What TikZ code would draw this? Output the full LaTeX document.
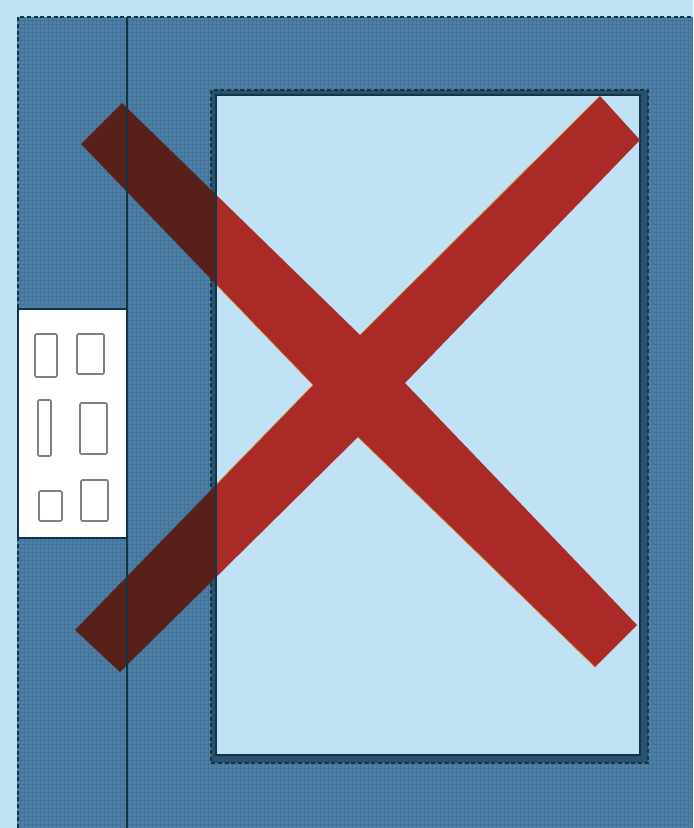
\documentclass[tikz,border=0pt]{standalone}
\usepackage{tikz}
\usetikzlibrary{arrows.meta,positioning,calc}
\definecolor{sky}{RGB}{193,225,245}
\definecolor{wall}{RGB}{78,128,167}
\definecolor{weave}{RGB}{58,105,142}
\definecolor{ink}{RGB}{18,52,72}
\definecolor{cross}{RGB}{170,42,40}
\definecolor{crossdark}{RGB}{88,32,26}
\definecolor{rim}{RGB}{205,130,50}
\tikzset{
  panel/.style={fill=wall, draw=none},
  seam/.style={draw=ink, line width=1.1pt, densely dashed},
  pane/.style={fill=sky, draw=ink, line width=1.3pt},
  card/.style={fill=white, draw=ink, line width=1.1pt},
  slot/.style={draw=black!50, rounded corners=1pt, line width=1.2pt, fill=white},
  rimline/.style={draw=rim, line width=0.5pt},
}
\begin{document}
\begin{tikzpicture}[x=0.75pt,y=-0.75pt]
        \useasboundingbox (0,0) rectangle (693,828);
        \fill[sky] (0,0) rectangle (693,828);
        % wall
        \fill[panel] (17,17) rectangle (693,828);
        \begin{scope}
          \clip (17,17) rectangle (693,828);
          \draw[weave, line width=0.35pt, opacity=0.55, step=3pt] (17,17) grid (693,828);
        \end{scope}
        \draw[seam] (18,828) -- (18,17) -- (693,17);
        % window
        \fill[ink!60!wall] (211,90) rectangle (648,763);
        \draw[seam] (211,90) rectangle (648,763);
        \draw[pane] (216,95) rectangle (640,755);
        % cross
        \coordinate (nw1) at (81,144);
        \coordinate (nw2) at (122,103);
        \coordinate (se1) at (637,625);
        \coordinate (se2) at (595,667);
        \coordinate (sw1) at (75,630);
        \coordinate (sw2) at (120,672);
        \coordinate (ne1) at (640,140);
        \coordinate (ne2) at (600,96);
        \coordinate (top) at (360,335);
        \coordinate (rgt) at (405,383);
        \coordinate (bot) at (358,437);
        \coordinate (lft) at (313,385);
        \begin{scope}
          \clip (216,0) rectangle (693,828);
          \fill[cross] (nw2) -- (top) -- (ne2) -- (ne1) -- (rgt) -- (se1) -- (se2) -- (bot)
            -- (sw2) -- (sw1) -- (lft) -- (nw1) -- cycle;
          \draw[rimline] (top) -- (ne2) (bot) -- (se2) (lft) -- (sw1) (lft) -- (nw1);
        \end{scope}
        \begin{scope}
          \clip (0,0) rectangle (216,828);
          \fill[crossdark] (nw2) -- (top) -- (lft) -- (nw1) -- cycle;
          \fill[crossdark] (sw2) -- (bot) -- (lft) -- (sw1) -- cycle;
        \end{scope}
        \draw[ink, line width=1.3pt] (216,95) -- (216,755);
        % side strip
        \draw[ink, line width=1.1pt] (127,17) -- (127,828);
        \draw[card] (18,309) rectangle (127,538);
        \draw[slot] (35,334) rectangle (57,377);
        \draw[slot] (77,334) rectangle (104,374);
        \draw[slot] (38,400) rectangle (51,456);
        \draw[slot] (80,403) rectangle (107,454);
        \draw[slot] (39,491) rectangle (62,521);
        \draw[slot] (81,480) rectangle (108,521);
      \end{tikzpicture}
\end{document}
